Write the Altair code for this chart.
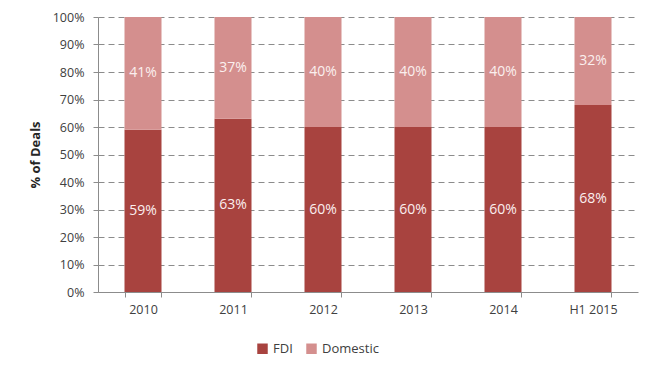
import altair as alt
import pandas as pd

years = ["2010", "2011", "2012", "2013", "2014", "H1 2015"]
fdi = [59, 63, 60, 60, 60, 68]
domestic = [41, 37, 40, 40, 40, 32]
series = ["FDI", "Domestic"]
colors = ["#A8433F", "#D48F8E"]

rows = []
for i, y in enumerate(years):
    rows.append({"year": y, "type": "FDI", "value": fdi[i], "ord": 0})
    rows.append({"year": y, "type": "Domestic", "value": domestic[i], "ord": 1})
df = pd.DataFrame(rows)

FONT = "Open Sans"

base = alt.Chart(df).transform_stack(
    stack="value", groupby=["year"], sort=[alt.SortField("ord")], as_=["y0", "y1"]
).transform_calculate(mid="(datum.y0 + datum.y1) / 2", lab="datum.value + '%'")

xaxis = alt.Axis(labelAngle=0, tickBand="extent", domainColor="#8c8c8c",
                 tickColor="#8c8c8c", tickSize=5, labelFontSize=12.5,
                 labelColor="#404040", labelFont=FONT, labelPadding=6)
xscale = alt.Scale(paddingInner=0.59, paddingOuter=0.295)

yaxis = alt.Axis(values=list(range(0, 101, 10)), labelExpr="datum.value + '%'",
                 labelOverlap=False, gridDash=[6, 4], gridColor="#8c8c8c",
                 domainColor="#8c8c8c", tickColor="#8c8c8c", tickSize=5,
                 labelFontSize=12.5, labelColor="#404040", labelFont=FONT,
                 labelPadding=9,
                 titleFont=FONT, titleFontSize=13, titleFontWeight="bold",
                 titleColor="#262626", titlePadding=10)
yscale = alt.Scale(domain=[0, 100], nice=False)

bars = base.mark_bar(size=37).encode(
    x=alt.X("year:N", sort=years, title=None, scale=xscale, axis=xaxis),
    y=alt.Y("y0:Q", title="% of Deals", scale=yscale, axis=yaxis),
    y2="y1:Q",
    color=alt.Color("type:N", scale=alt.Scale(domain=series, range=colors),
                    legend=alt.Legend(title=None, orient="none", direction="horizontal",
                                      legendX=158, legendY=325, symbolType="square",
                                      symbolSize=110, labelFontSize=13, labelFont=FONT,
                                      labelColor="#404040", columnPadding=12,
                                      symbolStrokeWidth=0)),
)

texts = base.mark_text(color="#FBEFEF", fontSize=14, font=FONT, fontWeight=500).encode(
    x=alt.X("year:N", sort=years, title=None, scale=xscale, axis=xaxis),
    y=alt.Y("mid:Q", title="% of Deals", scale=yscale, axis=yaxis),
    text="lab:N",
)

chart = alt.layer(bars, texts).properties(
    width=540, height=275,
    autosize=alt.AutoSizeParams(type="none"),
    padding={"left": 90, "top": 9, "right": 4, "bottom": 85},
).configure(background="white", view=alt.ViewConfig(stroke=None))

chart.save("out.html", embed_options={"renderer": "svg", "actions": False})
